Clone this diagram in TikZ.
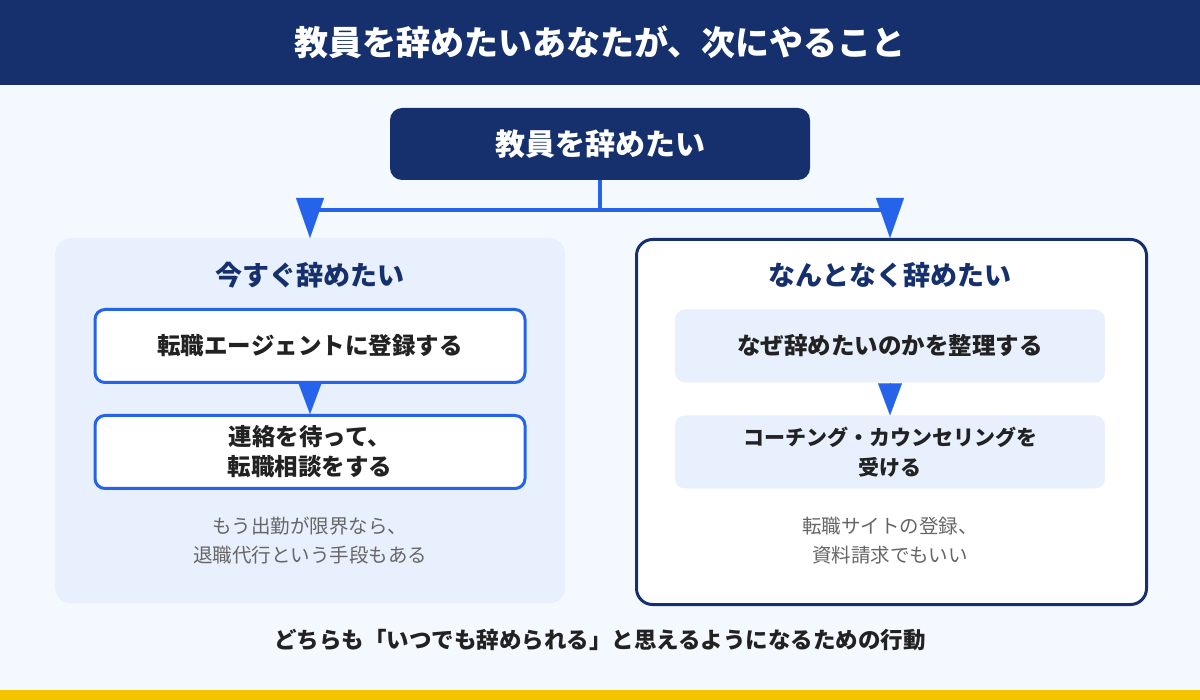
\documentclass[tikz,border=0pt]{standalone}
\usepackage{fontspec}
\setmainfont{Noto Sans CJK JP}
\usetikzlibrary{arrows.meta,positioning}
\definecolor{navy}{HTML}{15306C}
\definecolor{blu}{HTML}{2563EB}
\definecolor{pale}{HTML}{E8F0FD}
\definecolor{bg}{HTML}{F4F8FF}
\definecolor{ink}{HTML}{222222}
\definecolor{note}{HTML}{666666}
\definecolor{gold}{HTML}{F5C400}
\tikzset{
  panel/.style={rounded corners=16, minimum width=510, minimum height=365, anchor=north west},
  stage/.style={rounded corners=10, minimum width=430, minimum height=73, align=center,
    font=\bfseries\fontsize{23.5}{30}\selectfont, text=ink},
  ttl/.style={font=\bfseries\fontsize{27}{32}\selectfont, text=navy},
  memo/.style={align=center, font=\fontsize{19.5}{29}\selectfont, text=note},
  link/.style={blu, line width=4},
  tip/.style={blu, line width=0.1, -{Triangle[width=28,length=40]}},
  small tip/.style={blu, line width=0.1, -{Triangle[width=24,length=32]}}
}
\begin{document}
\begin{tikzpicture}[x=1pt,y=-1pt]
\useasboundingbox (0,0) rectangle (1200,700);
%
% background
\fill [bg] (0,0) rectangle (1200,700);
\fill [navy] (0,0) rectangle (1200,85);
\fill [gold] (0,690) rectangle (1200,700);
\node (title) [text=white, font=\bfseries\fontsize{34}{40}\selectfont] at (600,42)
      {教員を辞めたいあなたが、次にやること};
%
% start
\node (top) [fill=navy, rounded corners=12, minimum width=420, minimum height=72,
      text=white, font=\bfseries\fontsize{30}{34}\selectfont] at (600,144) {教員を辞めたい};
%
% panels
\node (lp) [panel, fill=pale] at (55,238) {};
\node (rp) [panel, fill=white, draw=navy, line width=3] at (635,238) {};
\node (lt) [ttl] at (310,275) {今すぐ辞めたい};
\node (rt) [ttl] at (890,275) {なんとなく辞めたい};
%
% branches
\coordinate (jc) at (600,210);
\coordinate (jl) at (310,210);
\coordinate (jr) at (890,210);
\draw [link] (top.south) -- (jc);
\draw [link] (jl) -- (jr);
\draw [tip] (310,199) -- (lp.north -| jl);
\draw [tip] (890,199) -- (rp.north -| jr);
%
% left steps
\node (l1) [stage, fill=white, draw=blu, line width=3] at (310,346) {転職エージェントに登録する};
\node (l2) [stage, fill=white, draw=blu, line width=3] at (310,452) {連絡を待って、\\転職相談をする};
\draw [small tip] (l1.south) -- (l2.north);
\node (ln) [memo] at (310,541) {もう出勤が限界なら、\\退職代行という手段もある};
%
% right steps
\node (r1) [stage, fill=pale] at (890,346) {なぜ辞めたいのかを整理する};
\node (r2) [stage, fill=pale, font=\bfseries\fontsize{21}{30}\selectfont] at (890,452)
      {コーチング・カウンセリングを\\受ける};
\draw [small tip] (r1.south) -- (r2.north);
\node (rn) [memo] at (890,541) {転職サイトの登録、\\資料請求でもいい};
%
% footer
\node (foot) [text=ink, font=\bfseries\fontsize{22.5}{26}\selectfont] at (600,640)
      {どちらも「いつでも辞められる」と思えるようになるための行動};
\end{tikzpicture}
\end{document}
